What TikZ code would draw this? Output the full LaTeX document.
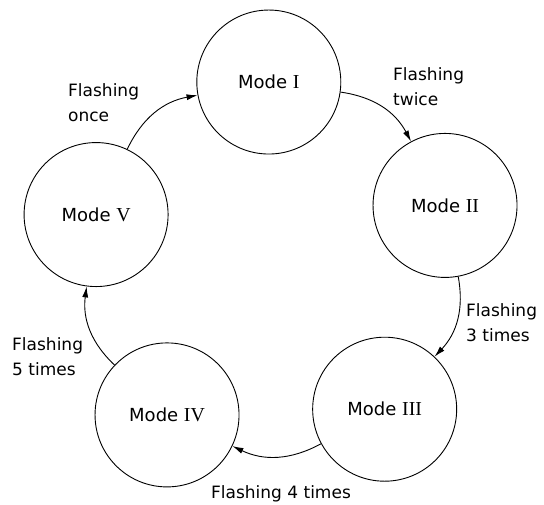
\documentclass[tikz,border=0pt]{standalone}
\usepackage{fontspec}
\setmainfont{DejaVu Sans}
\newfontfamily\romfont[Scale=1.1]{Liberation Serif}
\usepackage{tikz}
\usetikzlibrary{arrows.meta}

\newcommand{\modename}[1]{Mode {\romfont #1}}

\begin{document}
\begin{tikzpicture}[mode/.style={circle, draw, line width=0.9pt, minimum size=144pt, inner sep=0pt, font=\fontsize{18}{22}\selectfont},
    flash/.style={align=left, inner sep=0pt, font=\fontsize{17}{25}\selectfont},
    trans/.style={-{Latex[length=11pt,width=6pt]}, line width=0.9pt}]
    \useasboundingbox (-272pt,-239pt) rectangle (272pt,265pt);

    \node (mode1) [mode] at (91:183pt) {\modename{I}};
    \node (mode2) [mode] at (19:183pt) {\modename{II}};
    \node (mode3) [mode] at (-52:183pt) {\modename{III}};
    \node (mode4) [mode] at (-125:183pt) {\modename{IV}};
    \node (mode5) [mode] at (164:183pt) {\modename{V}};

    \draw [trans] (mode1) to[bend left=27] (mode2);
    \draw [trans] (mode2) to[bend left=27] (mode3);
    \draw [trans] (mode3) to[bend left=27] (mode4);
    \draw [trans] (mode4) to[bend left=27] (mode5);
    \draw [trans] (mode5) to[bend left=27] (mode1);

    \node (twice) [flash, anchor=north west] at (121pt,198pt) {Flashing\\twice};
    \node (three) [flash, anchor=north west] at (194pt,-38pt) {Flashing\\3 times};
    \node (four) [flash, anchor=north] at (9pt,-220pt) {Flashing 4 times};
    \node (five) [flash, anchor=north west] at (-260pt,-72pt) {Flashing\\5 times};
    \node (once) [flash, anchor=north west] at (-204pt,182pt) {Flashing\\once};
\end{tikzpicture}
\end{document}
